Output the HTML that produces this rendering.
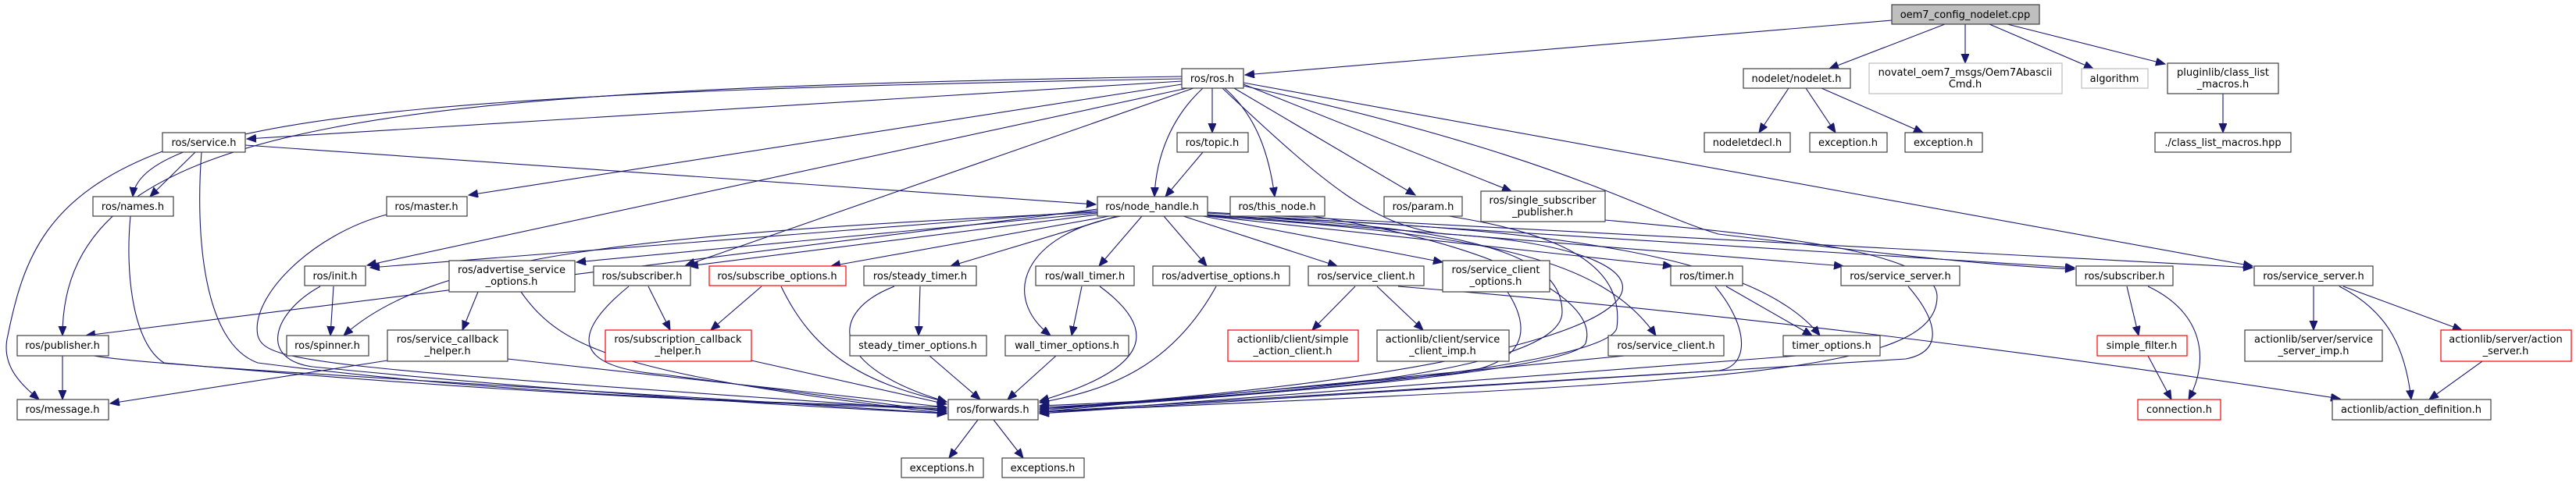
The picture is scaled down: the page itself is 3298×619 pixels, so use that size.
<!DOCTYPE html>
<html><head><meta charset="utf-8"><style>
html,body{margin:0;padding:0;background:#fff;}
svg{display:block;}
text{font-family:"DejaVu Sans","Liberation Sans",sans-serif;font-size:13px;fill:#000;text-anchor:middle;}
.n{fill:#fff;stroke:#404040;stroke-width:1.2;}
.r{fill:#fff;stroke:#ff0000;stroke-width:1.2;}
.g{fill:#fff;stroke:#bfbfbf;stroke-width:1.2;}
.e path{fill:none;stroke:#191970;stroke-width:1.1;marker-end:url(#a);}
</style></head><body>
<svg width="3298" height="619" viewBox="0 0 3298 619" xmlns="http://www.w3.org/2000/svg">
<defs><marker id="a" markerUnits="userSpaceOnUse" markerWidth="14" markerHeight="12" refX="12" refY="5" orient="auto"><path d="M0,0 L12,5 L0,10 z" fill="#191970" stroke="#191970"/></marker></defs>
<g class="e">
<path d="M2422,26 L1594,96"/>
<path d="M2490,31 L2342,88"/>
<path d="M2516,31 L2516,81"/>
<path d="M2547,31 L2680,88"/>
<path d="M2570,31 L2772,82"/>
<path d="M2846,120 L2846,170"/>
<path d="M2290,113 L2252,170"/>
<path d="M2312,113 L2350,170"/>
<path d="M2332,113 L2462,170"/>
<path d="M1513,104 L316,178"/>
<path d="M1513,101 C700,115 180,140 170,252"/>
<path d="M1513,98 C500,115 80,150 80,430"/>
<path d="M1513,108 L600,250"/>
<path d="M1520,113 L470,340"/>
<path d="M1528,113 L878,340"/>
<path d="M1540,113 C1500,150 1480,200 1478,252"/>
<path d="M1552,113 L1552,170"/>
<path d="M1540,195 L1492,252"/>
<path d="M1568,113 C1610,150 1625,200 1632,252"/>
<path d="M1580,113 L1812,250"/>
<path d="M1592,108 L1935,245"/>
<path d="M1592,106 L2884,341"/>
<path d="M1592,110 C2000,200 2100,270 2200,300 C2450,330 2550,340 2656,345"/>
<path d="M1565,113 C1700,240 1760,290 1850,300 C2200,320 2230,460 1331,524"/>
<path d="M250,195 L192,252"/>
<path d="M208,194 C60,250 30,330 10,430 C0,470 30,495 50,512"/>
<path d="M258,195 C250,300 260,440 330,465 C600,500 900,515 1212,522"/>
<path d="M314,186 L1403,262"/>
<path d="M167,277 C160,350 170,440 210,465 C600,500 900,515 1212,524"/>
<path d="M495,275 C400,300 320,380 330,430 C340,465 400,470 1212,526"/>
<path d="M1405,270 L474,343"/>
<path d="M1405,272 C800,300 550,330 440,430"/>
<path d="M1405,268 L110,430"/>
<path d="M1405,273 L738,336"/>
<path d="M1405,275 L882,341"/>
<path d="M1420,277 L1064,341"/>
<path d="M1430,277 L1217,341"/>
<path d="M1462,277 L1407,341"/>
<path d="M1435,277 C1310,300 1280,380 1345,430"/>
<path d="M1490,277 L1545,341"/>
<path d="M1515,277 L1712,341"/>
<path d="M1540,277 L1847,336"/>
<path d="M1546,277 L2141,341"/>
<path d="M1546,275 L2360,341"/>
<path d="M1546,273 L2656,343"/>
<path d="M1546,272 L2884,343"/>
<path d="M1546,277 C1900,300 2050,330 2120,430"/>
<path d="M1546,277 C2000,290 2250,330 2330,430"/>
<path d="M1546,276 C1900,290 2000,330 2000,400 C2000,480 1600,510 1331,520"/>
<path d="M1680,277 C1900,310 2050,380 2030,440 C2010,480 1500,515 1331,522"/>
<path d="M1855,277 C2000,300 2080,340 2070,420 C2060,470 1600,510 1331,524"/>
<path d="M2055,282 C2250,300 2480,320 2480,380 C2480,480 2200,490 1331,528"/>
<path d="M427,367 L423,430"/>
<path d="M410,367 C350,400 330,460 400,470 C700,500 1000,520 1212,530"/>
<path d="M612,374 L592,423"/>
<path d="M667,374 C720,450 800,480 1212,530"/>
<path d="M496,462 L141,517"/>
<path d="M650,460 L1212,522"/>
<path d="M80,456 L80,512"/>
<path d="M120,456 C200,470 600,490 1212,530"/>
<path d="M830,367 L858,423"/>
<path d="M805,367 C740,420 720,470 850,480 L1212,528"/>
<path d="M975,367 L910,423"/>
<path d="M1000,367 C1040,450 1100,490 1212,515"/>
<path d="M962,462 L1212,518"/>
<path d="M1178,367 L1176,430"/>
<path d="M1145,367 C1060,400 1060,470 1212,515"/>
<path d="M1190,456 L1255,512"/>
<path d="M1385,367 L1372,430"/>
<path d="M1408,367 C1480,420 1480,470 1331,514"/>
<path d="M1352,456 L1290,512"/>
<path d="M1557,367 C1500,470 1420,500 1331,516"/>
<path d="M1735,367 L1680,423"/>
<path d="M1763,367 L1822,423"/>
<path d="M1790,367 C2200,400 2600,450 2996,511"/>
<path d="M1930,374 C1960,420 1960,470 1850,480 L1331,526"/>
<path d="M2210,367 L2320,430"/>
<path d="M2196,367 C2240,420 2240,470 2200,475 L1331,528"/>
<path d="M2080,456 L1331,528"/>
<path d="M2300,456 L1331,530"/>
<path d="M2443,367 C2480,410 2490,450 2440,460 L1331,530"/>
<path d="M2723,367 L2738,430"/>
<path d="M2750,367 C2820,400 2830,460 2802,512"/>
<path d="M2750,456 L2780,512"/>
<path d="M2962,367 L2962,423"/>
<path d="M2995,367 C3060,400 3080,450 3087,512"/>
<path d="M3000,367 L3152,423"/>
<path d="M3178,463 L3110,512"/>
<path d="M1252,538 L1215,587"/>
<path d="M1272,538 L1310,587"/>
</g>
<g>
<rect x="2422" y="6" width="189" height="25" fill="#bfbfbf" stroke="#404040" stroke-width="1.2"/><text x="2516" y="23">oem7_config_nodelet.cpp</text>
<rect class="n" x="1513" y="88" width="79" height="25"/><text x="1552" y="105">ros/ros.h</text>
<rect class="n" x="2232" y="88" width="137" height="25"/><text x="2300" y="105">nodelet/nodelet.h</text>
<rect class="g" x="2393" y="81" width="247" height="39"/><text x="2516" y="97">novatel_oem7_msgs/Oem7Abascii</text><text x="2516" y="112">Cmd.h</text>
<rect class="g" x="2665" y="88" width="85" height="25"/><text x="2707" y="105">algorithm</text>
<rect class="n" x="2775" y="81" width="142" height="39"/><text x="2846" y="97">pluginlib/class_list</text><text x="2846" y="112">_macros.h</text>
<rect class="n" x="208" y="170" width="106" height="25"/><text x="261" y="187">ros/service.h</text>
<rect class="n" x="1507" y="170" width="91" height="25"/><text x="1552" y="187">ros/topic.h</text>
<rect class="n" x="2182" y="170" width="110" height="25"/><text x="2237" y="187">nodeletdecl.h</text>
<rect class="n" x="2317" y="170" width="99" height="25"/><text x="2366" y="187">exception.h</text>
<rect class="n" x="2439" y="170" width="99" height="25"/><text x="2488" y="187">exception.h</text>
<rect class="n" x="2759" y="170" width="174" height="25"/><text x="2846" y="187">./class_list_macros.hpp</text>
<rect class="n" x="119" y="252" width="103" height="25"/><text x="170" y="269">ros/names.h</text>
<rect class="n" x="495" y="252" width="103" height="25"/><text x="546" y="269">ros/master.h</text>
<rect class="n" x="1405" y="252" width="141" height="25"/><text x="1475" y="269">ros/node_handle.h</text>
<rect class="n" x="1575" y="252" width="121" height="25"/><text x="1635" y="269">ros/this_node.h</text>
<rect class="n" x="1772" y="252" width="100" height="25"/><text x="1822" y="269">ros/param.h</text>
<rect class="n" x="1896" y="245" width="159" height="39"/><text x="1975" y="261">ros/single_subscriber</text><text x="1975" y="276">_publisher.h</text>
<rect class="n" x="390" y="341" width="78" height="25"/><text x="429" y="358">ros/init.h</text>
<rect class="n" x="575" y="334" width="161" height="40"/><text x="655" y="350">ros/advertise_service</text><text x="655" y="365">_options.h</text>
<rect class="n" x="760" y="341" width="124" height="25"/><text x="822" y="358">ros/subscriber.h</text>
<rect class="r" x="908" y="341" width="175" height="25"/><text x="995" y="358">ros/subscribe_options.h</text>
<rect class="n" x="1106" y="341" width="144" height="25"/><text x="1178" y="358">ros/steady_timer.h</text>
<rect class="n" x="1326" y="341" width="126" height="25"/><text x="1389" y="358">ros/wall_timer.h</text>
<rect class="n" x="1476" y="341" width="175" height="25"/><text x="1563" y="358">ros/advertise_options.h</text>
<rect class="n" x="1675" y="341" width="148" height="25"/><text x="1749" y="358">ros/service_client.h</text>
<rect class="n" x="1847" y="334" width="137" height="40"/><text x="1915" y="350">ros/service_client</text><text x="1915" y="365">_options.h</text>
<rect class="n" x="2139" y="341" width="92" height="25"/><text x="2185" y="358">ros/timer.h</text>
<rect class="n" x="2357" y="341" width="152" height="25"/><text x="2433" y="358">ros/service_server.h</text>
<rect class="n" x="2658" y="341" width="124" height="25"/><text x="2720" y="358">ros/subscriber.h</text>
<rect class="n" x="2886" y="341" width="152" height="25"/><text x="2962" y="358">ros/service_server.h</text>
<rect class="n" x="22" y="430" width="117" height="26"/><text x="80" y="447">ros/publisher.h</text>
<rect class="n" x="367" y="430" width="105" height="26"/><text x="419" y="447">ros/spinner.h</text>
<rect class="n" x="496" y="423" width="154" height="40"/><text x="573" y="439">ros/service_callback</text><text x="573" y="454">_helper.h</text>
<rect class="r" x="775" y="423" width="187" height="40"/><text x="868" y="439">ros/subscription_callback</text><text x="868" y="454">_helper.h</text>
<rect class="n" x="1088" y="430" width="175" height="26"/><text x="1175" y="447">steady_timer_options.h</text>
<rect class="n" x="1287" y="430" width="158" height="26"/><text x="1366" y="447">wall_timer_options.h</text>
<rect class="r" x="1572" y="423" width="167" height="40"/><text x="1655" y="439">actionlib/client/simple</text><text x="1655" y="454">_action_client.h</text>
<rect class="n" x="1763" y="423" width="169" height="40"/><text x="1847" y="439">actionlib/client/service</text><text x="1847" y="454">_client_imp.h</text>
<rect class="n" x="2059" y="430" width="148" height="26"/><text x="2133" y="447">ros/service_client.h</text>
<rect class="n" x="2283" y="430" width="124" height="26"/><text x="2345" y="447">timer_options.h</text>
<rect class="r" x="2685" y="430" width="115" height="26"/><text x="2742" y="447">simple_filter.h</text>
<rect class="n" x="2874" y="423" width="176" height="40"/><text x="2962" y="439">actionlib/server/service</text><text x="2962" y="454">_server_imp.h</text>
<rect class="r" x="3125" y="423" width="167" height="40"/><text x="3208" y="439">actionlib/server/action</text><text x="3208" y="454">_server.h</text>
<rect class="n" x="22" y="512" width="117" height="26"/><text x="80" y="529">ros/message.h</text>
<rect class="n" x="1214" y="512" width="115" height="26"/><text x="1271" y="529">ros/forwards.h</text>
<rect class="r" x="2737" y="512" width="106" height="26"/><text x="2790" y="529">connection.h</text>
<rect class="n" x="2986" y="512" width="203" height="26"/><text x="3087" y="529">actionlib/action_definition.h</text>
<rect class="n" x="1154" y="587" width="105" height="25"/><text x="1206" y="604">exceptions.h</text>
<rect class="n" x="1283" y="587" width="105" height="25"/><text x="1335" y="604">exceptions.h</text>
</g>
</svg>
</body></html>
